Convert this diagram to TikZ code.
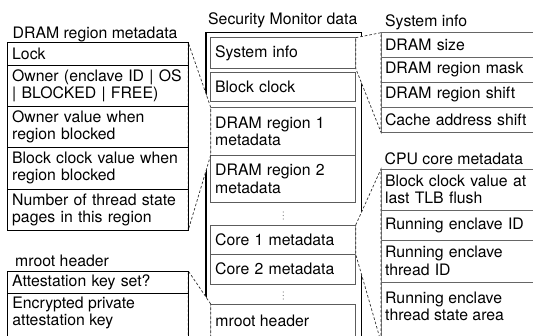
\documentclass[tikz,border=0pt]{standalone}
\usepackage{fontspec}
\setmainfont{TeX Gyre Heros}
\definecolor{midgray}{HTML}{5C5C5C}
\definecolor{rgray}{HTML}{666666}
\definecolor{lensgray}{HTML}{303030}
\definecolor{dotgray}{HTML}{808080}
\tikzset{
  body/.style={font=\fontsize{15.8}{17.4}\selectfont},
  label/.style={body, inner sep=0pt, anchor=west, align=left},
  title/.style={label, text height=11.4pt, text depth=3.3pt},
  cell/.style={body, draw, rectangle, anchor=north west, outer sep=0pt,
    inner xsep=4.5pt, inner ysep=0pt, align=left},
  lcell/.style={cell, draw=black, line width=0.8pt, minimum width=180.6pt, text width=171.6pt},
  mcell/.style={cell, draw=midgray, line width=1pt, minimum width=145pt, text width=136pt},
  rcell/.style={cell, draw=rgray, line width=1pt, minimum width=164pt, text width=156pt, inner xsep=4pt},
  monitor/.style={draw=black, line width=1.6pt, rectangle, anchor=north west, outer sep=0pt, inner sep=0pt},
  lens/.style={draw=lensgray, fill=white, line width=0.7pt, dash pattern=on 2.6pt off 2pt},
  gapdot/.style={fill=dotgray}
}
\begin{document}
\begin{tikzpicture}[x=1pt,y=-1pt]
\useasboundingbox (0,0) rectangle (533,335);
\clip (0,0) rectangle (533,335);

% Security Monitor data column
\node[title] (smtitle) at (208,20.5) {Security Monitor data};
\node[monitor, minimum width=155.8pt, minimum height=330pt] (monitor) at (205.7,32.5) {};
\node[mcell, minimum height=30.6pt] (sysinfo) at (210.7,37.7) {System info};
\node[mcell, minimum height=29pt] (blockclk) at (210.7,72.7) {Block clock};
\node[mcell, minimum height=47.7pt] (dram1) at (210.7,107.3) {DRAM region 1\\metadata};
\node[mcell, minimum height=47.7pt] (dram2) at (dram1.south west) {DRAM region 2\\metadata};
\fill[gapdot] (283.2,212) circle (0.65pt) (283.2,215.5) circle (0.65pt) (283.2,219) circle (0.65pt);
\node[mcell, minimum height=29.3pt] (core1) at (210.7,225) {Core 1 metadata};
\node[mcell, minimum height=29.7pt] (core2) at (core1.south west) {Core 2 metadata};
\fill[gapdot] (283.2,292) circle (0.65pt) (283.2,295.5) circle (0.65pt) (283.2,299) circle (0.65pt);
\node[mcell, minimum height=45pt] (mroot) at (210.7,304) {};
\node[label] (mroot-text) at (215.2,321) {mroot header};

% System info fields
\node[title] (systitle) at (385,22.3) {System info};
\node[rcell, minimum height=24.6pt] (dsize) at (381,32.7) {DRAM size};
\node[rcell, minimum height=25pt] (dmask) at (dsize.south west) {DRAM region mask};
\node[rcell, minimum height=25pt] (dshift) at (dmask.south west) {DRAM region shift};
\node[rcell, minimum height=25pt] (cshift) at (dshift.south west) {Cache address shift};

% CPU core metadata fields
\node[title] (cputitle) at (384.5,160.5) {CPU core metadata};
\node[rcell, minimum height=41pt] (tlbclk) at (381,169) {Block clock value at\\last TLB flush};
\node[rcell, minimum height=30pt] (renc) at (tlbclk.south west) {Running enclave ID};
\node[rcell, minimum height=42pt] (rthread) at (renc.south west) {Running enclave\\thread ID};
\node[rcell, minimum height=60pt] (tstate) at (rthread.south west) {};
\node[label] (tstate-text) at (385,306.5) {Running enclave\\thread state area};

% Zoom-out callouts
\draw[lens] (sysinfo.north east) -- (dsize.north west) -- (cshift.south west) -- (sysinfo.south east) -- cycle;
\draw[lens] (core1.north east) -- (tlbclk.north west) -- (tstate.south west) -- (core1.south east) -- cycle;
\draw[lens] (dram1.north west) -- (7.7+180.6,42.7) coordinate (ldram-top) -- (7.7+180.6,230) coordinate (ldram-bot) -- (dram1.south west) -- cycle;
\draw[lens] (mroot.north west) -- (7.7+180.6,271) coordinate (lmroot-top) -- (7.7+180.6,349) coordinate (lmroot-bot) -- (mroot.south west) -- cycle;

% DRAM region metadata fields
\node[title] (dramtitle) at (12.5,34.8) {DRAM region metadata};
\node[lcell, minimum height=22.3pt] (lock) at (7.7,42.7) {Lock};
\node[lcell, minimum height=41.3pt] (owner) at (lock.south west) {Owner (enclave ID | OS\\| BLOCKED | FREE)};
\node[lcell, minimum height=40.7pt] (ownerval) at (owner.south west) {Owner value when\\region blocked};
\node[lcell, minimum height=42.3pt] (clockval) at (ownerval.south west) {Block clock value when\\region blocked};
\node[lcell, minimum height=41pt] (nthread) at (clockval.south west) {Number of thread state\\pages in this region};

% mroot header fields
\node[title] (mroottitle) at (15,262) {mroot header};
\node[lcell, minimum height=22.5pt] (attest) at (7.7,271) {Attestation key set?};
\node[lcell, minimum height=55pt] (enckey) at (attest.south west) {};
\node[label] (enckey-text) at (12.2,313) {Encrypted private\\attestation key};
\end{tikzpicture}
\end{document}
